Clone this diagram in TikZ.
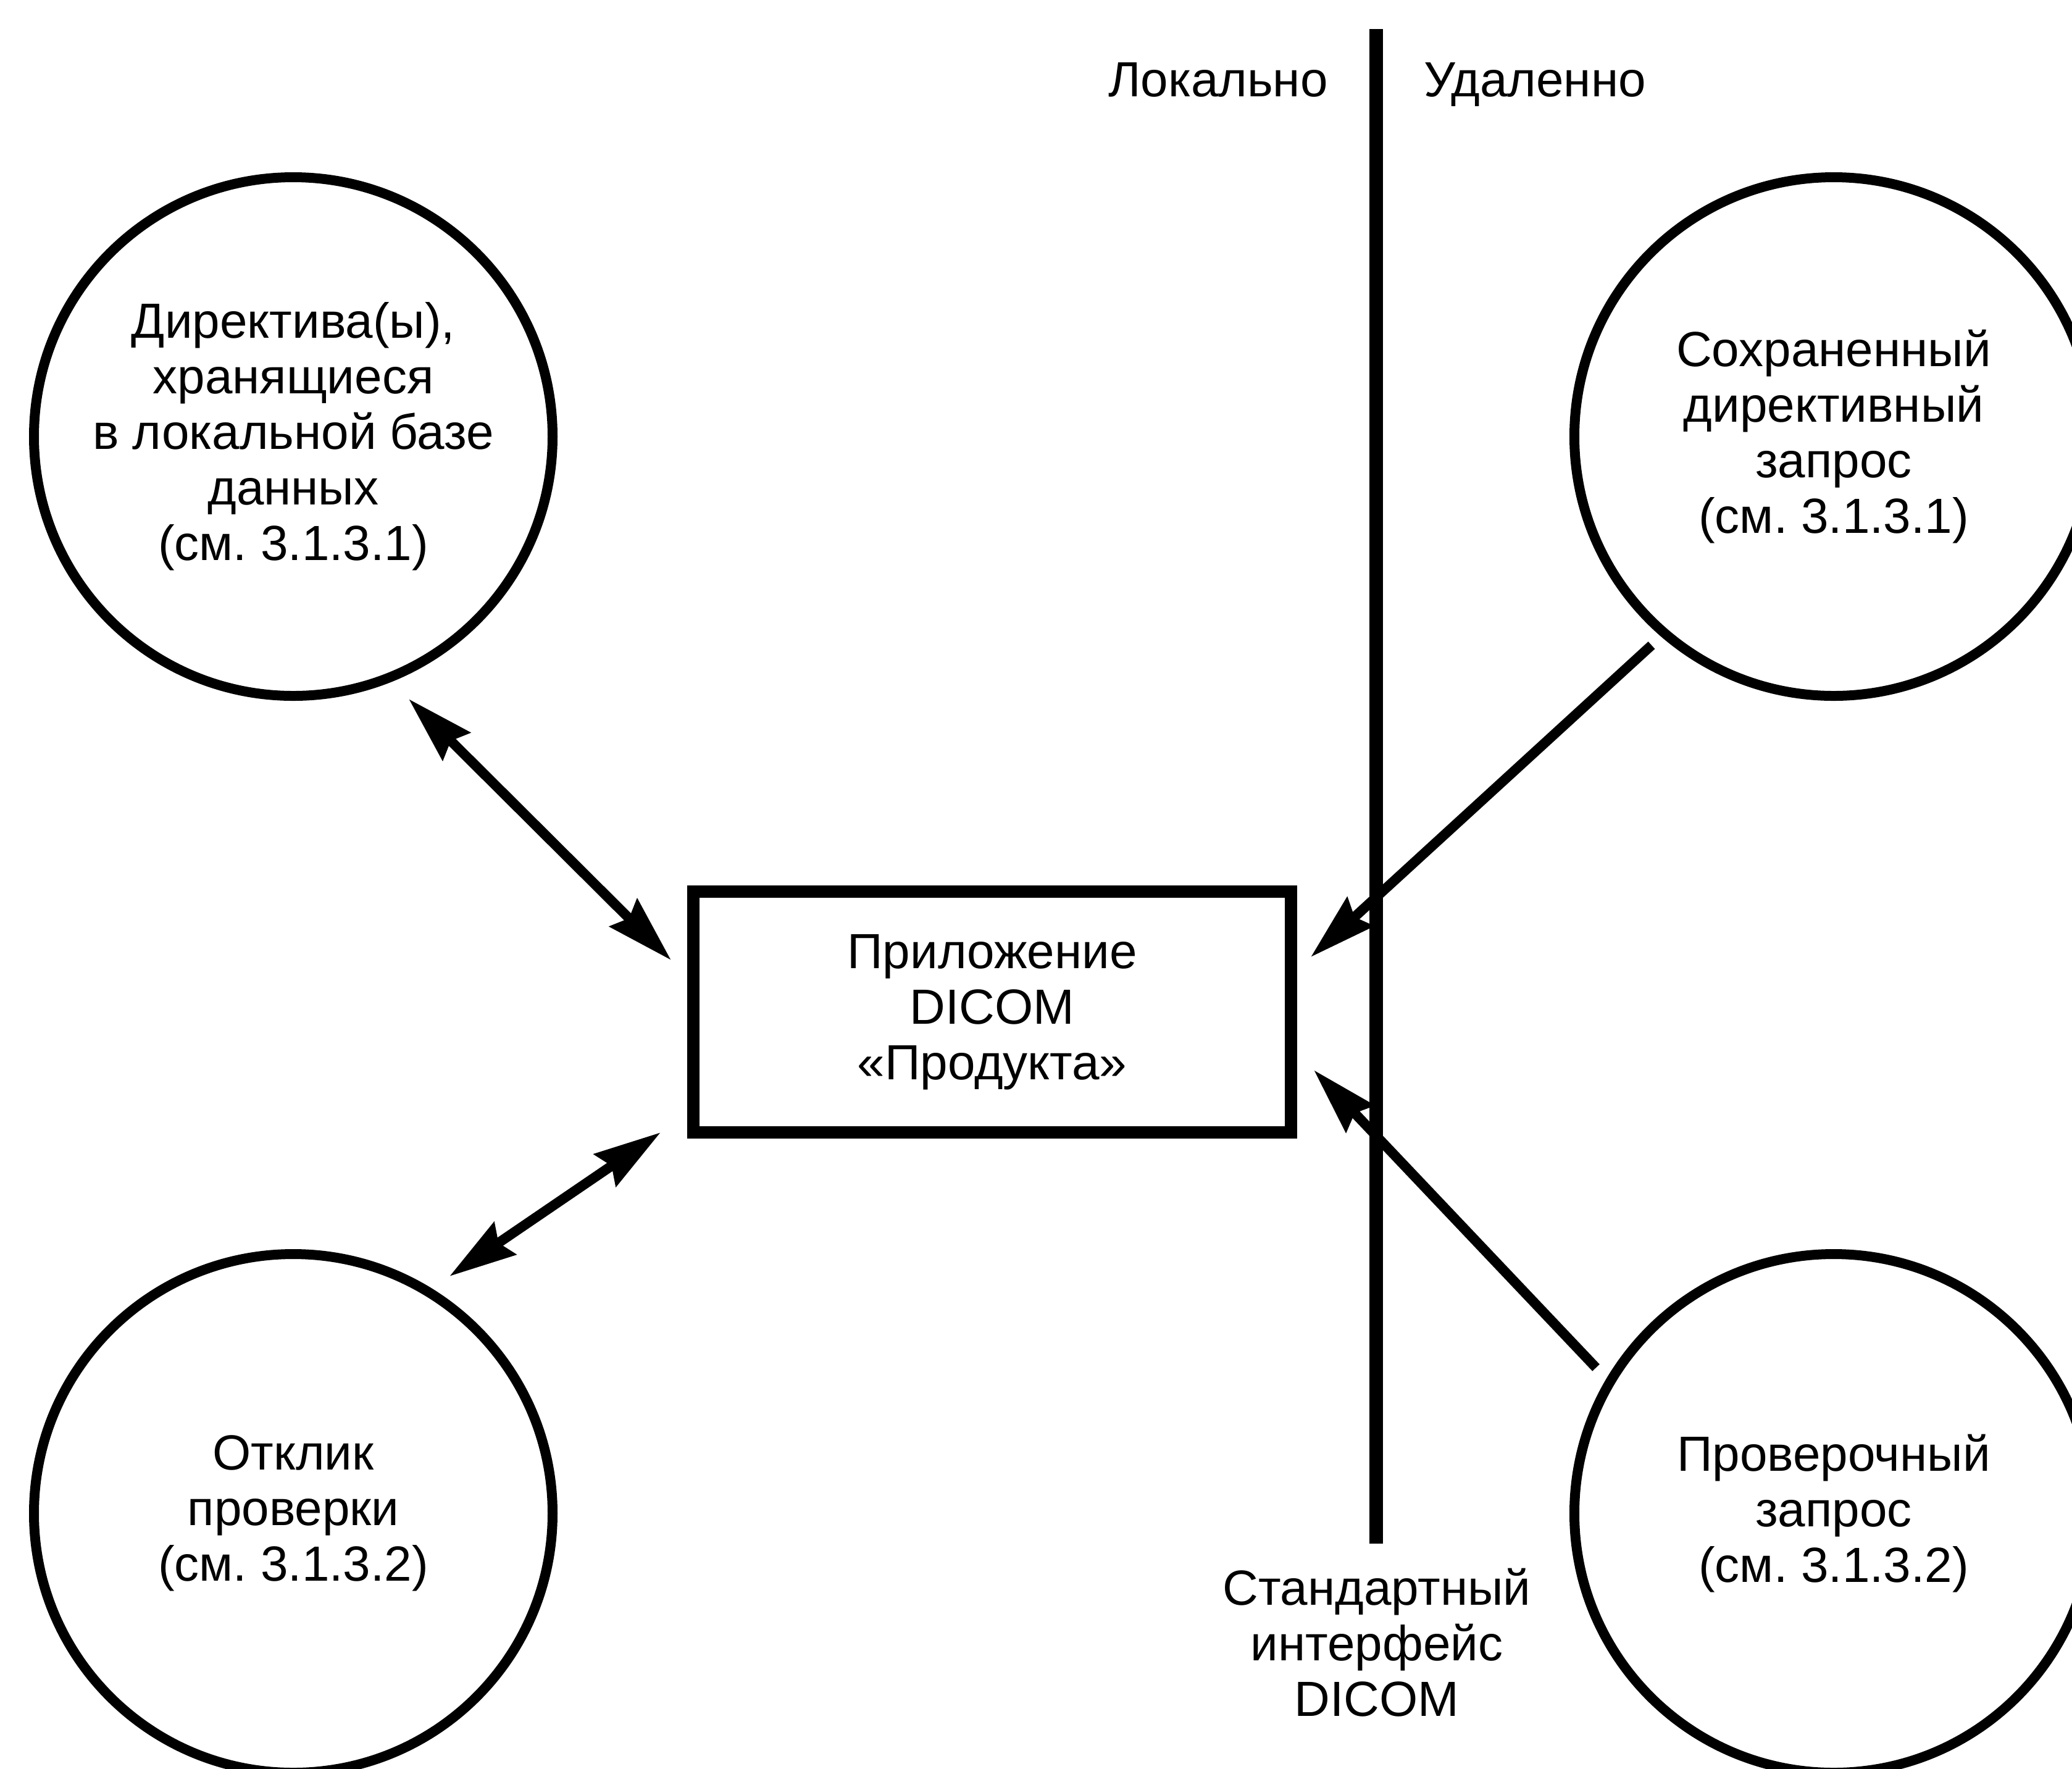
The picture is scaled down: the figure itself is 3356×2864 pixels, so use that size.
\documentclass[tikz,border=0pt]{standalone}
\usepackage{fontspec}
\setmainfont{Liberation Sans}
\usetikzlibrary{arrows.meta}
\frenchspacing
\begin{document}
\begin{tikzpicture}[x=0.25pt,y=-0.25pt,
  lbl/.style={font=\fontsize{20}{22.5}\selectfont, align=center, inner sep=0pt},
  bubble/.style={circle, draw, line width=4pt, minimum size=210pt, inner sep=0pt, lbl},
  appbox/.style={rectangle, draw, line width=5pt, minimum width=242pt, minimum height=97.5pt, inner sep=0pt, lbl},
  conn/.style={line width=4pt},
  >={Stealth[length=27pt,width=15.5pt,inset=3pt]}]
\useasboundingbox (0,0) rectangle (3356,2864);
\fill[white] (0,0) rectangle (3356,2864);

% boundary line
\coordinate (vtop) at (2229,47);
\coordinate (vbot) at (2229,2500);
\draw[line width=5.5pt] (vtop) -- (vbot);
\node[lbl, anchor=base] (loc) at (1973,156) {Локально};
\node[lbl, anchor=base] (rem) at (2486,156) {Удаленно};
\node[lbl] (iface) at (2230,2660) {Стандартный\\интерфейс\\DICOM};

% nodes
\node[bubble] (dirs) at (475,707) {Директива(ы),\\хранящиеся\\в локальной базе\\данных\\(см. 3.1.3.1)};
\node[bubble] (query) at (2970,707) {Сохраненный\\директивный\\запрос\\(см. 3.1.3.1)};
\node[bubble] (resp) at (475,2451) {Отклик\\проверки\\(см. 3.1.3.2)};
\node[bubble] (vq) at (2970,2451) {Проверочный\\запрос\\(см. 3.1.3.2)};
\node[appbox] (app) at (1607,1639) {Приложение\\DICOM\\«Продукта»};

% connector end points
\coordinate (d1) at (662,1132);
\coordinate (d2) at (1087,1555);
\coordinate (r1) at (728,2067);
\coordinate (r2) at (1070,1834);
\coordinate (q1) at (2675,1045);
\coordinate (q2) at (2123,1550);
\coordinate (v1) at (2585,2215);
\coordinate (v2) at (2128,1733);

\draw[conn, <->] (d1) -- (d2);
\draw[conn, <->] (r1) -- (r2);
\draw[conn, ->] (q1) -- (q2);
\draw[conn, ->] (v1) -- (v2);
\end{tikzpicture}
\end{document}
